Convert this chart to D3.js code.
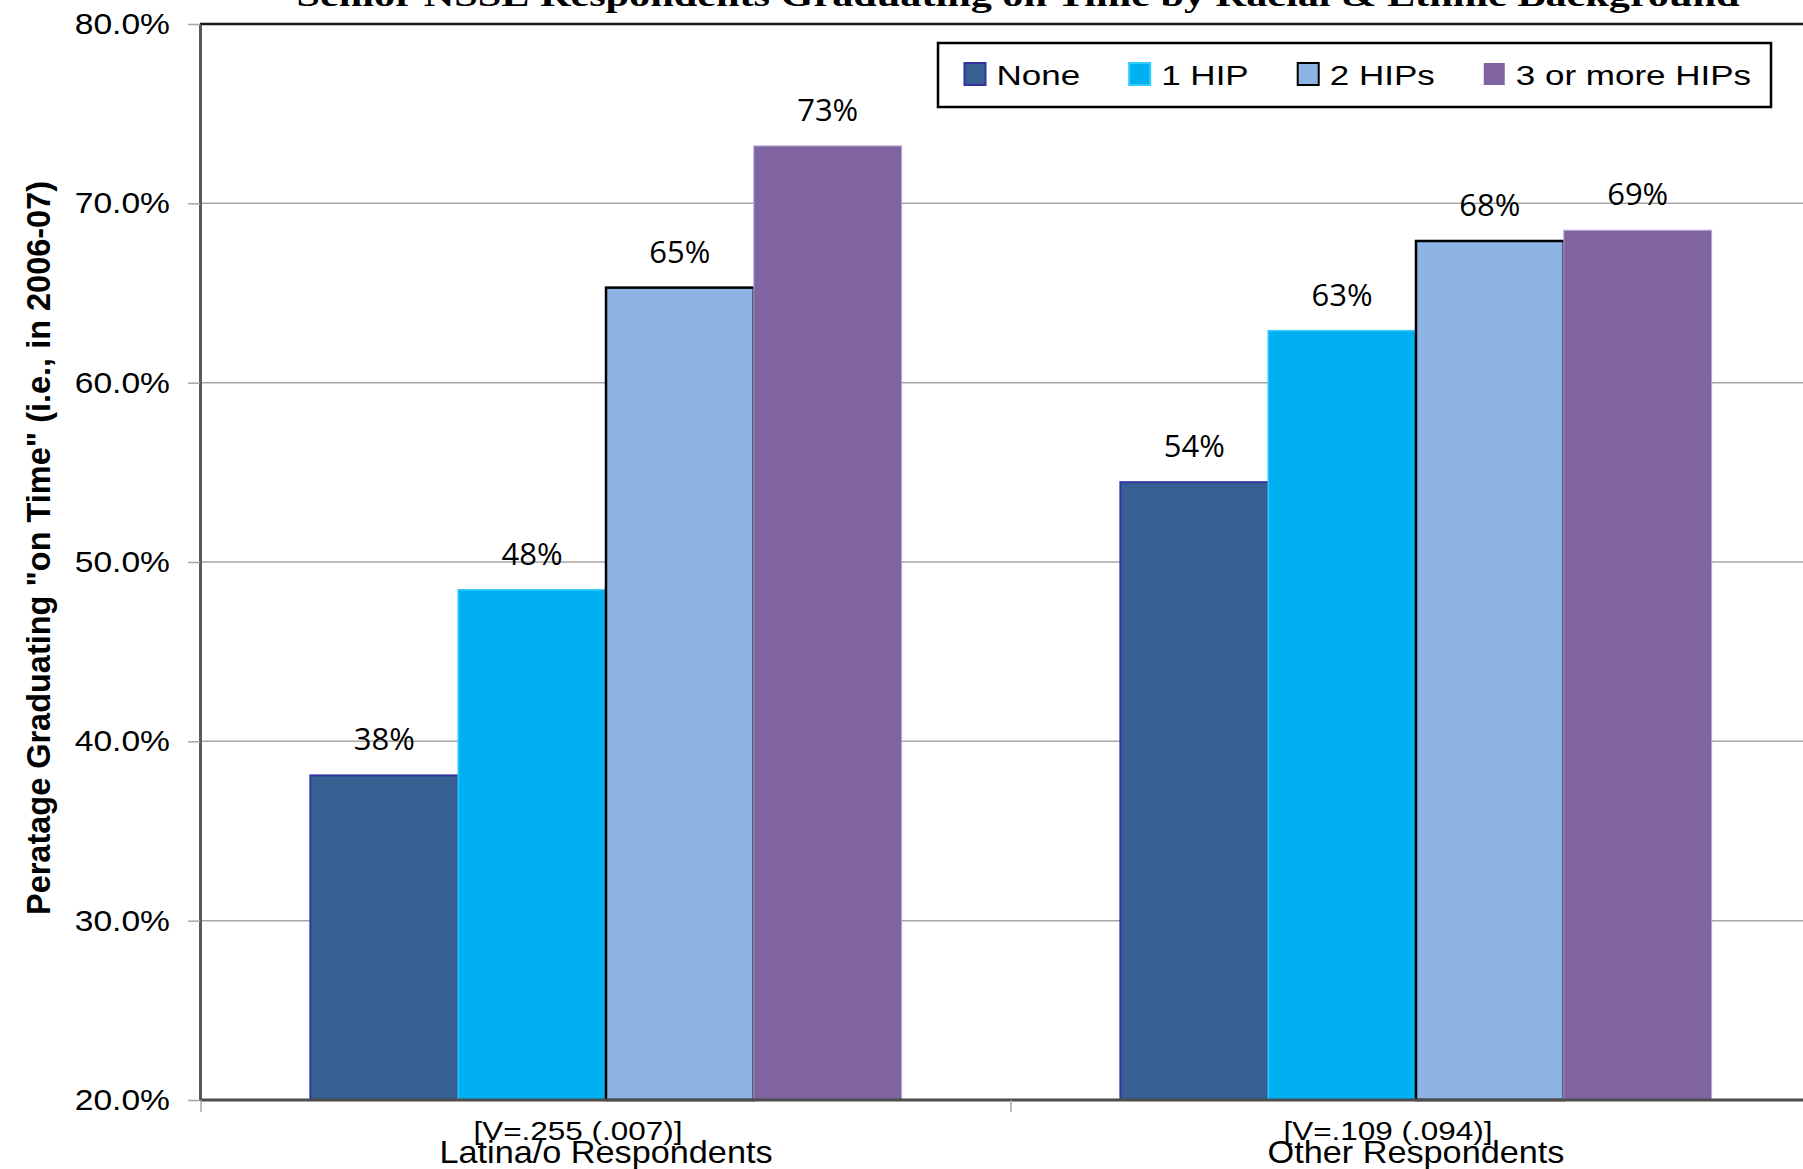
<!DOCTYPE html>
<html>
<head>
<meta charset="utf-8">
<script src="https://cdn.jsdelivr.net/npm/d3@7"></script>
<style>
  html, body { margin: 0; padding: 0; background: #ffffff; }
  svg { display: block; }
</style>
</head>
<body>
<svg id="chart" width="1803" height="1169"></svg>
<script>
// ---------------- data ----------------
const title = "Senior NSSE Respondents Graduating on Time by Racial & Ethnic Background";
const yTitle = "Peratage Graduating \"on Time\" (i.e., in 2006-07)";
const categories = ["Latina/o Respondents", "Other Respondents"];
const categoryStats = ["[V=.255 (.007)]", "[V=.109 (.094)]"];
const series = ["None", "1 HIP", "2 HIPs", "3 or more HIPs"];
const noneValues = [38.1, 54.45];
const oneHipValues = [48.45, 62.9];
const twoHipValues = [65.3, 67.9];
const threePlusValues = [73.2, 68.5];
const yTicks = [20, 30, 40, 50, 60, 70, 80];

(function () {
const seriesValues = [noneValues, oneHipValues, twoHipValues, threePlusValues];
const fills = ["#366092", "#00B0F0", "#8EB4E3", "#8064A2"];
const strokes = ["#3333a0", "#33ccff", "#000000", "#b4a7d6"];
const strokeW = [2, 1.5, 2.5, 1];

const rows = categories.map((c, i) => ({
  cat: c,
  vals: series.map((s, j) => ({ s, j, v: seriesValues[j][i] }))
}));

// ---------------- layout ----------------
const svg = d3.select("#chart");
const W = 1803, H = 1169;
const mLeft = 200, mTop = 24, mBottom = 1100;
const bandTotal = 810;

const y = d3.scaleLinear().domain([20, 80]).range([mBottom, mTop]);
const x0 = d3.scaleBand().domain(categories).range([mLeft + 1, mLeft + 1 + bandTotal * categories.length]).padding(0);
const x1 = d3.scaleBand().domain(series).range([0, x0.bandwidth()]).paddingInner(0).paddingOuter(0.74);

function stretch(sel, k) {
  sel.each(function () {
    const L = this.getComputedTextLength();
    d3.select(this).attr("textLength", L * k).attr("lengthAdjust", "spacingAndGlyphs");
  });
}

svg.append("rect").attr("width", W).attr("height", H).attr("fill", "#ffffff");

// title (cut off at top as in reference)
const tt = svg.append("text")
  .attr("x", 1018).attr("y", 6)
  .attr("text-anchor", "middle")
  .attr("font-family", "Liberation Serif, Times New Roman, serif")
  .attr("font-weight", "bold")
  .attr("font-size", 31)
  .attr("fill", "#000")
  .text(title);
tt.attr("textLength", 1443).attr("lengthAdjust", "spacingAndGlyphs");

// gridlines
svg.append("g").selectAll("line")
  .data(yTicks.filter(t => t > 20 && t < 80))
  .join("line")
  .attr("x1", mLeft).attr("x2", W)
  .attr("y1", d => y(d)).attr("y2", d => y(d))
  .attr("stroke", "#a6a6a6").attr("stroke-width", 1.5);

// top border
svg.append("line")
  .attr("x1", mLeft).attr("x2", W)
  .attr("y1", y(80)).attr("y2", y(80))
  .attr("stroke", "#1a1a1a").attr("stroke-width", 2.5);

// bars
const groups = svg.append("g").selectAll("g")
  .data(rows).join("g")
  .attr("transform", d => `translate(${x0(d.cat)},0)`);

groups.selectAll("rect")
  .data(d => d.vals).join("rect")
  .attr("x", d => x1(d.s))
  .attr("width", x1.bandwidth())
  .attr("y", d => y(d.v))
  .attr("height", d => y(20) - y(d.v))
  .attr("fill", d => fills[d.j])
  .attr("stroke", d => strokes[d.j])
  .attr("stroke-width", d => strokeW[d.j]);

groups.selectAll("text.val")
  .data(d => d.vals).join("text")
  .attr("class", "val")
  .attr("x", d => x1(d.s) + x1.bandwidth() / 2)
  .attr("y", d => y(d.v) - 25)
  .attr("text-anchor", "middle")
  .attr("font-family", "Open Sans, Noto Sans, sans-serif")
  .attr("font-size", 31)
  .attr("fill", "#000")
  .text(d => Math.round(d.v) + "%");

// y axis
const yAxis = svg.append("g")
  .attr("transform", `translate(${mLeft},0)`)
  .call(d3.axisLeft(y).tickValues(yTicks).tickFormat(d => d.toFixed(1) + "%").tickSize(12).tickSizeOuter(0).tickPadding(18));
yAxis.select(".domain").attr("stroke", "#595959").attr("stroke-width", 3);
yAxis.selectAll(".tick line").attr("stroke", "#a6a6a6").attr("stroke-width", 1.5);
const yLabels = yAxis.selectAll(".tick text")
  .attr("font-family", "Liberation Sans, Arial, sans-serif")
  .attr("font-size", 30)
  .attr("fill", "#000");
stretch(yLabels, 1.12);

// x axis line
svg.append("line")
  .attr("x1", mLeft).attr("x2", W)
  .attr("y1", mBottom).attr("y2", mBottom)
  .attr("stroke", "#4d4d4d").attr("stroke-width", 3);

// x ticks at band boundaries
svg.append("g").selectAll("line")
  .data(categories)
  .join("line")
  .attr("x1", d => x0(d)).attr("x2", d => x0(d))
  .attr("y1", mBottom).attr("y2", mBottom + 12)
  .attr("stroke", "#a6a6a6").attr("stroke-width", 1.5);

// category labels
const statLabels = svg.append("g").selectAll("text")
  .data(categoryStats).join("text")
  .attr("x", (d, i) => x0(categories[i]) + x0.bandwidth() / 2 - 28)
  .attr("y", mBottom + 40)
  .attr("text-anchor", "middle")
  .attr("font-family", "Liberation Sans, Arial, sans-serif")
  .attr("font-size", 26)
  .attr("fill", "#000")
  .text(d => d);
stretch(statLabels, 1.21);

const catLabels = svg.append("g").selectAll("text")
  .data(categories).join("text")
  .attr("x", d => x0(d) + x0.bandwidth() / 2)
  .attr("y", mBottom + 63)
  .attr("text-anchor", "middle")
  .attr("font-family", "Liberation Sans, Arial, sans-serif")
  .attr("font-size", 32)
  .attr("fill", "#000")
  .text(d => d);
stretch(catLabels, 1.07);

// y axis title
const yt = svg.append("text")
  .attr("transform", `translate(50,548) rotate(-90)`)
  .attr("text-anchor", "middle")
  .attr("font-family", "Liberation Sans, Arial, sans-serif")
  .attr("font-weight", "bold")
  .attr("font-size", 33)
  .attr("fill", "#000")
  .text(yTitle);
yt.attr("textLength", 734).attr("lengthAdjust", "spacingAndGlyphs");

// legend
const legend = svg.append("g");
legend.append("rect")
  .attr("x", 938).attr("y", 43)
  .attr("width", 833).attr("height", 64)
  .attr("fill", "#fff").attr("stroke", "#000").attr("stroke-width", 2.5);

let cx = 964.5;
series.forEach((s, j) => {
  legend.append("rect")
    .attr("x", cx).attr("y", 63)
    .attr("width", 21).attr("height", 22)
    .attr("fill", fills[j])
    .attr("stroke", strokes[j])
    .attr("stroke-width", j === 3 ? 0 : 2);
  const t = legend.append("text")
    .attr("x", cx + 32).attr("y", 85)
    .attr("font-family", "Liberation Sans, Arial, sans-serif")
    .attr("font-size", 28)
    .attr("fill", "#000")
    .text(s);
  stretch(t, 1.25);
  const len = +t.attr("textLength");
  cx = cx + 32 + len + 49;
});
})();
</script>
</body>
</html>
